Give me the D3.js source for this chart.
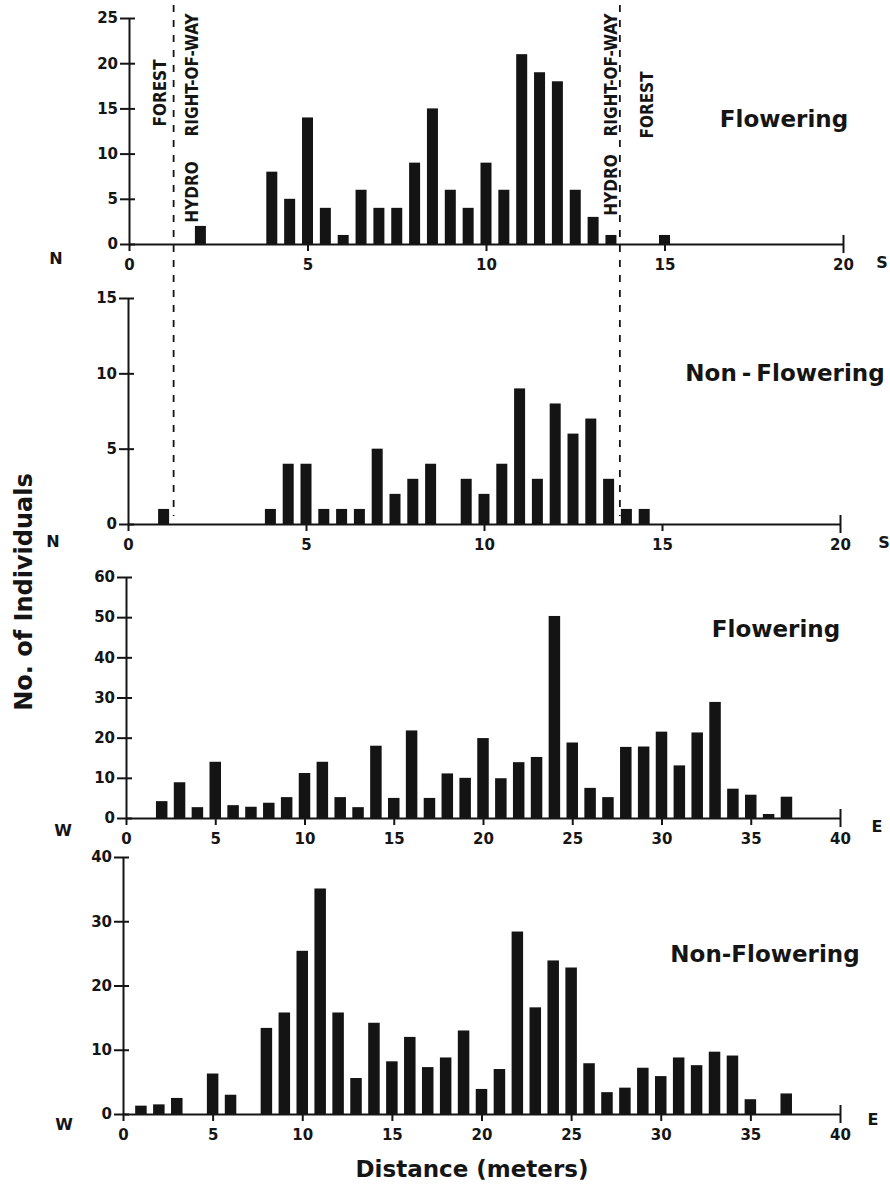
<!DOCTYPE html>
<html>
<head>
<meta charset="utf-8">
<script src="https://cdn.jsdelivr.net/npm/d3@7"></script>
<style>
  body { margin: 0; background: #fff; }
  svg { display: block; }
  text { font-family: "DejaVu Sans", sans-serif; font-weight: bold; fill: #151515; }
  .zone { font-family: "Liberation Sans Narrow", "DejaVu Sans Condensed", "Liberation Sans", sans-serif; font-size: 17px; }
</style>
</head>
<body>
<svg id="chart" width="890" height="1186"></svg>
<script>
// --- N-S transect (0.5 m bins) ---
const nsFloweringDist = [2, 4, 4.5, 5, 5.5, 6, 6.5, 7, 7.5, 8, 8.5, 9, 9.5, 10, 10.5, 11, 11.5, 12, 12.5, 13, 13.5, 15];
const nsFloweringCount = [2, 8, 5, 14, 4, 1, 6, 4, 4, 9, 15, 6, 4, 9, 6, 21, 19, 18, 6, 3, 1, 1];

const nsNonFloweringDist = [1, 4, 4.5, 5, 5.5, 6, 6.5, 7, 7.5, 8, 8.5, 9.5, 10, 10.5, 11, 11.5, 12, 12.5, 13, 13.5, 14, 14.5];
const nsNonFloweringCount = [1, 1, 4, 4, 1, 1, 1, 5, 2, 3, 4, 3, 2, 4, 9, 3, 8, 6, 7, 3, 1, 1];

// --- W-E transect (1 m bins) ---
const weFloweringDist = [2, 3, 4, 5, 6, 7, 8, 9, 10, 11, 12, 13, 14, 15, 16, 17, 18, 19, 20, 21, 22, 23, 24, 25, 26, 27, 28, 29, 30, 31, 32, 33, 34, 35, 36, 37];
const weFloweringCount = [4.2, 8.9, 2.7, 14, 3.2, 2.8, 3.8, 5.2, 11.2, 14, 5.2, 2.7, 18, 5, 21.8, 5, 11.1, 10, 19.9, 9.9, 13.9, 15.2, 50.3, 18.8, 7.5, 5.2, 17.7, 17.8, 21.5, 13.1, 21.3, 28.9, 7.3, 5.8, 1, 5.3];

const weNonFloweringDist = [1, 2, 3, 5, 6, 8, 9, 10, 11, 12, 13, 14, 15, 16, 17, 18, 19, 20, 21, 22, 23, 24, 25, 26, 27, 28, 29, 30, 31, 32, 33, 34, 35, 37];
const weNonFloweringCount = [1.3, 1.5, 2.5, 6.3, 3, 13.4, 15.8, 25.4, 35.1, 15.8, 5.6, 14.2, 8.2, 12, 7.3, 8.8, 13, 3.9, 7, 28.4, 16.6, 23.9, 22.8, 7.9, 3.4, 4.1, 7.2, 5.9, 8.8, 7.6, 9.7, 9.1, 2.3, 3.2];

// tick labels
const nsDistTicks = [0, 5, 10, 15, 20];
const weDistTicks = [0, 5, 10, 15, 20, 25, 30, 35, 40];
const nsFloweringTicks = [0, 5, 10, 15, 20, 25];
const nsNonFloweringTicks = [0, 5, 10, 15];
const weFloweringTicks = [0, 10, 20, 30, 40, 50, 60];
const weNonFloweringTicks = [0, 10, 20, 30, 40];

// hydro right-of-way edges along N-S transect (m)
const rightOfWayEdges = [1.25, 13.75];

const svg = d3.select('#chart');

// layout of each panel (pixels); endPos = [dx left, dy left, dx right, dy right] for compass letters
const panels = [
  { dist: nsFloweringDist, count: nsFloweringCount, xTicks: nsDistTicks, yTicks: nsFloweringTicks,
    ends: ['N', 'S'], endPos: [-73, 20, 39, 24], label: 'Flowering',
    x0: 129, x1: 843, yTop: 18, yBase: 244, barW: 11, labelX: 784, labelY: 127 },
  { dist: nsNonFloweringDist, count: nsNonFloweringCount, xTicks: nsDistTicks, yTicks: nsNonFloweringTicks,
    ends: ['N', 'S'], endPos: [-75, 23, 44, 24], label: 'Non - Flowering',
    x0: 128, x1: 840, yTop: 298, yBase: 524, barW: 11, labelX: 785, labelY: 381 },
  { dist: weFloweringDist, count: weFloweringCount, xTicks: weDistTicks, yTicks: weFloweringTicks,
    ends: ['W', 'E'], endPos: [-63, 18, 37, 14], label: 'Flowering',
    x0: 126, x1: 840, yTop: 577, yBase: 818, barW: 11.5, labelX: 776, labelY: 637 },
  { dist: weNonFloweringDist, count: weNonFloweringCount, xTicks: weDistTicks, yTicks: weNonFloweringTicks,
    ends: ['W', 'E'], endPos: [-59, 16, 33, 11], label: 'Non-Flowering',
    x0: 123, x1: 840, yTop: 857, yBase: 1114, barW: 11.5, labelX: 765, labelY: 962 }
];

let nsScale;

panels.forEach((p, i) => {
  const xMax = d3.max(p.xTicks);
  const yMax = d3.max(p.yTicks);
  const x = d3.scaleLinear().domain([0, xMax]).range([p.x0, p.x1]);
  const y = d3.scaleLinear().domain([0, yMax]).range([p.yBase, p.yTop]);
  if (i === 0) nsScale = x;

  const g = svg.append('g');

  // bars
  g.selectAll('rect')
    .data(p.dist.map((d, k) => ({ d, v: p.count[k] })))
    .join('rect')
    .attr('x', d => x(d.d) - p.barW / 2)
    .attr('width', p.barW)
    .attr('y', d => y(d.v))
    .attr('height', d => y(0) - y(d.v))
    .attr('fill', '#141414');

  // x axis
  const xAxis = g.append('g')
    .attr('transform', `translate(0,${p.yBase})`)
    .call(d3.axisBottom(x).tickValues(p.xTicks).tickSizeInner(7).tickSizeOuter(0).tickPadding(8));
  xAxis.selectAll('.tick line').filter(d => d === xMax).attr('y1', -9).attr('y2', 9);

  // y axis, ticks cross the line
  const yAxis = g.append('g')
    .attr('transform', `translate(${p.x0},0)`)
    .call(d3.axisLeft(y).tickValues(p.yTicks).tickSizeInner(9).tickSizeOuter(0).tickPadding(2));
  yAxis.selectAll('.tick line').attr('x1', 6);

  [xAxis, yAxis].forEach(a => {
    a.select('.domain').attr('stroke', '#151515').attr('stroke-width', 2);
    a.selectAll('.tick line').attr('stroke', '#151515').attr('stroke-width', 2);
    a.selectAll('.tick text').attr('fill', '#151515')
      .style('font-family', '"DejaVu Sans", sans-serif')
      .style('font-weight', 'bold').style('font-size', '15px');
  });

  // compass ends
  g.append('text').attr('x', p.x0 + p.endPos[0]).attr('y', p.yBase + p.endPos[1])
    .attr('text-anchor', 'middle').style('font-size', '16px').text(p.ends[0]);
  g.append('text').attr('x', p.x1 + p.endPos[2]).attr('y', p.yBase + p.endPos[3])
    .attr('text-anchor', 'middle').style('font-size', '16px').text(p.ends[1]);

  // panel label
  g.append('text').attr('x', p.labelX).attr('y', p.labelY)
    .attr('text-anchor', 'middle').style('font-size', '23px')
    .style('word-spacing', '-3px')
    .text(p.label);
});

// right-of-way boundaries
const edgeG = svg.append('g');
edgeG.selectAll('line')
  .data(rightOfWayEdges)
  .join('line')
  .attr('x1', d => nsScale(d)).attr('x2', d => nsScale(d))
  .attr('y1', 5).attr('y2', 516)
  .attr('stroke', '#151515').attr('stroke-width', 1.8)
  .attr('stroke-dasharray', '7,8');

function zoneText(xPos, yPos, txt) {
  edgeG.append('text')
    .attr('class', 'zone')
    .attr('transform', `translate(${xPos},${yPos}) rotate(-90)`)
    .attr('text-anchor', 'middle')
    .text(txt);
}
const [westEdge, eastEdge] = rightOfWayEdges.map(nsScale);
zoneText(westEdge - 8, 93, 'FOREST');
zoneText(westEdge + 24, 192, 'HYDRO');
zoneText(westEdge + 24, 75, 'RIGHT-OF-WAY');
zoneText(eastEdge - 3, 185, 'HYDRO');
zoneText(eastEdge - 3, 75, 'RIGHT-OF-WAY');
zoneText(eastEdge + 33, 105, 'FOREST');

// axis titles
svg.append('text')
  .attr('transform', 'translate(32,592) rotate(-90)')
  .attr('text-anchor', 'middle')
  .style('font-size', '24px')
  .text('No. of Individuals');

svg.append('text')
  .attr('x', 472).attr('y', 1177)
  .attr('text-anchor', 'middle')
  .style('font-size', '23px')
  .text('Distance (meters)');
</script>
</body>
</html>
